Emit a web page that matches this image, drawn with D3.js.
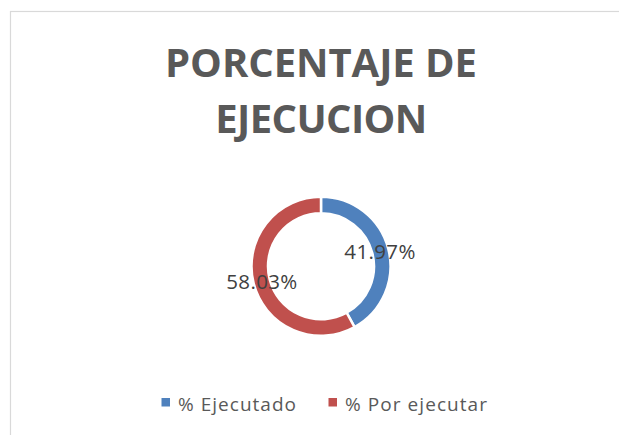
<!DOCTYPE html>
<html>
<head>
<meta charset="utf-8">
<script src="https://cdn.jsdelivr.net/npm/d3@7"></script>
<style>
  html, body { margin: 0; padding: 0; background: #ffffff; }
  svg { display: block; }
</style>
</head>
<body>
<svg id="chart" width="619" height="435"></svg>
<script>
// ---- data ----
const titleLines = ["PORCENTAJE DE", "EJECUCION"];
const categories = ["% Ejecutado", "% Por ejecutar"];
const values = [41.97, 58.03];
const labels = ["41.97%", "58.03%"];
const colors = ["#4F81BD", "#C0504D"];

const W = 619, H = 435;
const svg = d3.select("#chart");

// chart area border (extends past right/bottom edges)
svg.append("rect")
  .attr("x", 10.5).attr("y", 11.5)
  .attr("width", W + 20).attr("height", H + 20)
  .attr("fill", "#ffffff")
  .attr("stroke", "#d9d9d9").attr("stroke-width", 1.2);

const cx = 321;

// helper: fit text to target width via letter spacing
function fitSpacing(sel, target) {
  const node = sel.node();
  const n = sel.text().length;
  const w = node.getComputedTextLength();
  if (n > 1) sel.attr("letter-spacing", ((target - w) / (n - 1)).toFixed(2) + "px");
}

// ---- title ----
const title = svg.append("g").attr("font-family", "'Open Sans', sans-serif")
  .attr("font-weight", "bold").attr("fill", "#595959").attr("text-anchor", "middle");
const titleBaselines = [77, 133];
const titleWidths = [312, 212];
titleLines.forEach((t, i) => {
  const tx = title.append("text")
    .attr("x", cx).attr("y", titleBaselines[i])
    .attr("font-size", 40).text(t);
  fitSpacing(tx, titleWidths[i]);
});

// ---- donut ----
const cy = 266.3;
const outerR = 69.5, innerR = 53;
const pie = d3.pie().sort(null).value(d => d)(values);
const arc = d3.arc().innerRadius(innerR).outerRadius(outerR);
const g = svg.append("g").attr("transform", `translate(${cx},${cy})`);
g.selectAll("path").data(pie).join("path")
  .attr("d", arc)
  .attr("fill", (d, i) => colors[i])
  .attr("stroke", "#ffffff").attr("stroke-width", 2.5)
  .attr("stroke-linejoin", "miter");

// data labels at ring centroid
const labelArc = d3.arc().innerRadius(61).outerRadius(61);
g.selectAll("text.lbl").data(pie).join("text")
  .attr("class", "lbl")
  .attr("x", d => labelArc.centroid(d)[0])
  .attr("y", d => labelArc.centroid(d)[1] + 7.5)
  .attr("text-anchor", "middle")
  .attr("font-family", "'Open Sans', sans-serif")
  .attr("font-size", 20.5)
  .attr("fill", "#404040")
  .text((d, i) => labels[i])
  .each(function () { fitSpacing(d3.select(this), 71); });

// ---- legend ----
const legend = svg.append("g").attr("font-family", "'Open Sans', sans-serif")
  .attr("font-size", 19).attr("fill", "#595959");
const legendX = [161.5, 328.5];
const textWidths = [118, 142];
categories.forEach((c, i) => {
  legend.append("rect")
    .attr("x", legendX[i]).attr("y", 398)
    .attr("width", 8.5).attr("height", 8.5)
    .attr("fill", colors[i]);
  const t = legend.append("text")
    .attr("x", legendX[i] + 16.5).attr("y", 410.5)
    .text(c);
  fitSpacing(t, textWidths[i]);
});
</script>
</body>
</html>
